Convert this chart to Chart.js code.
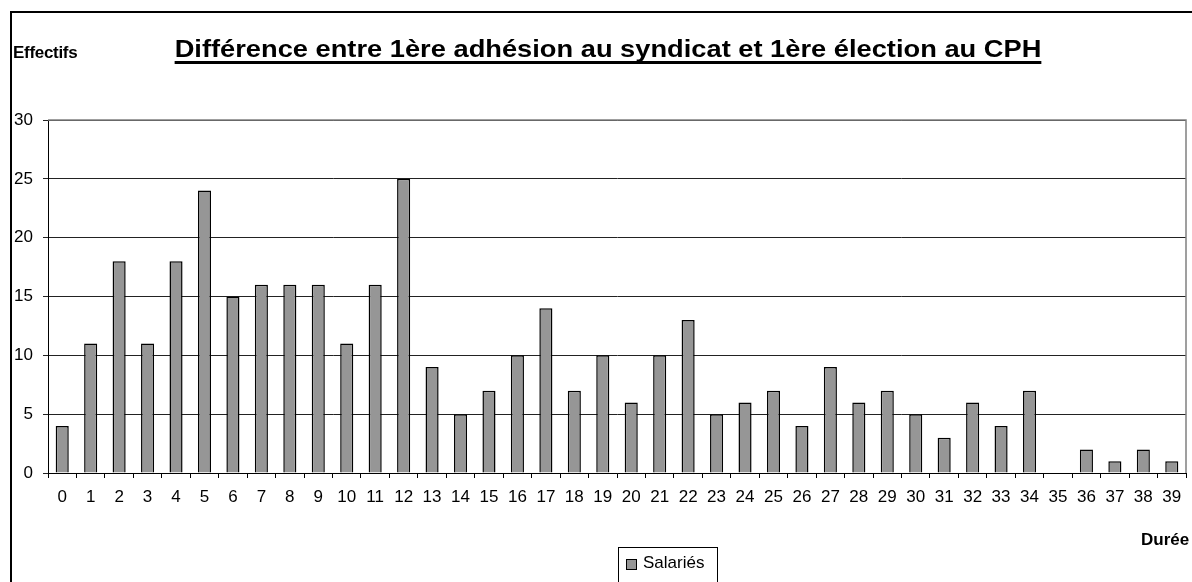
<!DOCTYPE html>
<html><head><meta charset="utf-8">
<script src="https://cdn.jsdelivr.net/npm/chart.js@4/dist/chart.umd.min.js"></script>
<style>
html,body{margin:0;padding:0;background:#fff;}
#wrap{position:relative;width:1192px;height:582px;overflow:hidden;font-family:"Liberation Sans",Arial,sans-serif;}
#frame{position:absolute;left:10px;top:11px;width:1300px;height:700px;border:2px solid #000;box-sizing:border-box;}
canvas{position:absolute;left:0;top:0;}
#title{position:absolute;left:0;width:1216px;top:35px;text-align:center;font-weight:bold;font-size:24px;line-height:28px;color:#000;text-decoration:underline;text-decoration-thickness:3px;text-underline-offset:4px;text-decoration-skip-ink:none;white-space:nowrap;transform:scaleX(1.136);transform-origin:608px 0;}
#ytitle{position:absolute;left:13px;top:43px;font-weight:bold;font-size:17px;letter-spacing:-0.3px;}
#xtitle{position:absolute;left:1141px;top:530px;font-weight:bold;font-size:17px;white-space:nowrap;}
#legend{position:absolute;left:618px;top:547px;width:100px;height:40px;border:1px solid #000;box-sizing:border-box;}
#legend .sw{position:absolute;left:7px;top:11px;width:9px;height:9px;background:#969696;border:1px solid #000;}
#legend .tx{position:absolute;left:24px;top:5px;font-size:17px;}
</style></head>
<body>
<div id="wrap">
<canvas id="c" width="1192" height="582"></canvas>
<div id="frame"></div>
<div id="title">Différence entre 1ère adhésion au syndicat et 1ère élection au CPH</div>
<div id="ytitle">Effectifs</div>
<div id="xtitle">Durée</div>
<div id="legend"><div class="sw"></div><div class="tx">Salariés</div></div>
</div>
<script>
const categories = ["0","1","2","3","4","5","6","7","8","9","10","11","12","13","14","15","16","17","18","19","20","21","22","23","24","25","26","27","28","29","30","31","32","33","34","35","36","37","38","39"];
const salaries = [4,11,18,11,18,24,15,16,16,16,11,16,25,9,5,7,10,14,7,10,6,10,13,5,6,7,4,9,6,7,5,3,6,4,7,0,2,1,2,1];
const yTicks = [0,5,10,15,20,25,30];

const borderPlugin = {
  id:'plotBorder',
  beforeDatasetsDraw(chart){
    const a = chart.chartArea, ctx = chart.ctx;
    ctx.save();
    ctx.strokeStyle = '#808080';
    ctx.lineWidth = 1.5;
    ctx.beginPath();
    ctx.moveTo(a.left, a.top); ctx.lineTo(a.right, a.top); ctx.lineTo(a.right, a.bottom);
    ctx.stroke();
    ctx.restore();
  }
};

new Chart(document.getElementById('c'), {
  type:'bar',
  data:{labels:categories, datasets:[{label:'Salariés', data:salaries, backgroundColor:'#969696', borderColor:'#000', borderWidth:1.5, barPercentage:0.46, categoryPercentage:1}]},
  options:{
    responsive:false, animation:false,
    layout:{padding:{left:0, top:120, right:6, bottom:0}},
    plugins:{legend:{display:false}, title:{display:false}, tooltip:{enabled:false}},
    scales:{
      x:{
        offset:true,
        grid:{offset:true, drawOnChartArea:false, drawTicks:true, tickLength:5, color:'#000'},
        border:{display:true, color:'#000', width:1},
        ticks:{color:'#000', font:{family:'Liberation Sans', size:17}, padding:9, maxRotation:0, autoSkip:false},
        afterFit(s){ s.height = 109; }
      },
      y:{
        min:0, max:30,
        afterBuildTicks(s){ s.ticks = yTicks.map(v=>({value:v})); },
        grid:{color:'#222', lineWidth:1, drawTicks:true, tickLength:5},
        border:{display:true, color:'#000', width:1},
        ticks:{color:'#000', font:{family:'Liberation Sans', size:17}, padding:10},
        afterFit(s){ s.width = 48; }
      }
    }
  },
  plugins:[borderPlugin]
});
</script>
</body></html>
